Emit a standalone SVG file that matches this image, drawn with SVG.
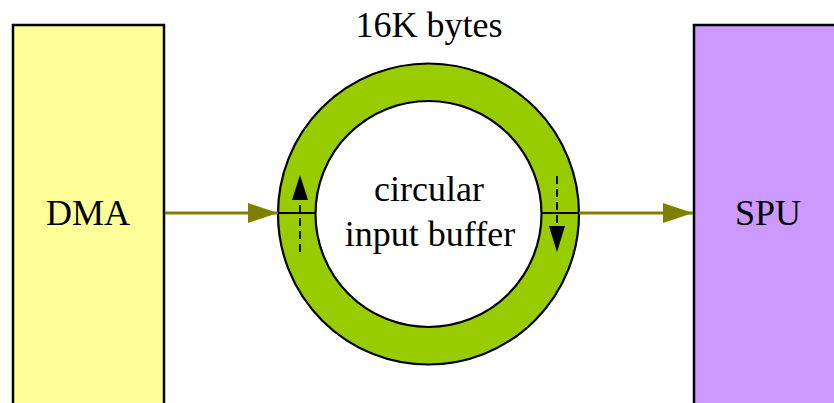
<svg xmlns="http://www.w3.org/2000/svg" width="834" height="403" viewBox="0 0 834 403">
  <style>
    .box { stroke: #000; stroke-width: 2.5; }
    .label { font-family: 'Liberation Serif', 'Times New Roman', Times, serif; font-size: 36px; fill: #000; text-anchor: middle; }
    .flow { stroke: #808000; stroke-width: 3; fill: none; }
    .dir { stroke: #000; stroke-width: 1.8; stroke-dasharray: 8 5; fill: none; }
    .rim { stroke: #000; stroke-width: 2.2; }
  </style>
  <defs>
    <marker id="olive-head" markerUnits="userSpaceOnUse" markerWidth="30" markerHeight="20" refX="30" refY="10" orient="auto">
      <path d="M0,0 L30,10 L0,20 Z" fill="#808000"/>
    </marker>
  </defs>
  <rect width="834" height="403" fill="#fff"/>

  <g id="dma">
    <rect class="box" x="13" y="25" width="151" height="400" fill="#FFFF99"/>
    <text class="label" x="88" y="225">DMA</text>
  </g>

  <g id="spu">
    <rect class="box" x="694" y="25" width="160" height="400" fill="#CC99FF"/>
    <text class="label" x="768" y="225">SPU</text>
  </g>

  <g id="buffer">
    <circle class="rim" cx="428.5" cy="214" r="150.5" fill="#99CC00"/>
    <circle class="rim" cx="428.5" cy="214" r="113" fill="#fff"/>
    <line class="rim" x1="278" y1="213" x2="315.5" y2="213"/>
    <line class="rim" x1="541.5" y1="213" x2="579" y2="213"/>
    <!-- write pointer moving up on the left side -->
    <line class="dir" x1="300" y1="252" x2="300" y2="200"/>
    <polygon points="300,175 292,200 308,200" fill="#000"/>
    <!-- read pointer moving down on the right side -->
    <line class="dir" x1="557" y1="176" x2="557" y2="227"/>
    <polygon points="557,252 549,226 565,226" fill="#000"/>
    <text class="label" x="429" y="201">circular</text>
    <text class="label" x="430" y="246">input buffer</text>
    <text class="label" x="429" y="37">16K bytes</text>
  </g>

  <g id="connectors">
    <line class="flow" x1="165" y1="213" x2="278" y2="213" marker-end="url(#olive-head)"/>
    <line class="flow" x1="579" y1="213" x2="693" y2="213" marker-end="url(#olive-head)"/>
  </g>
</svg>
